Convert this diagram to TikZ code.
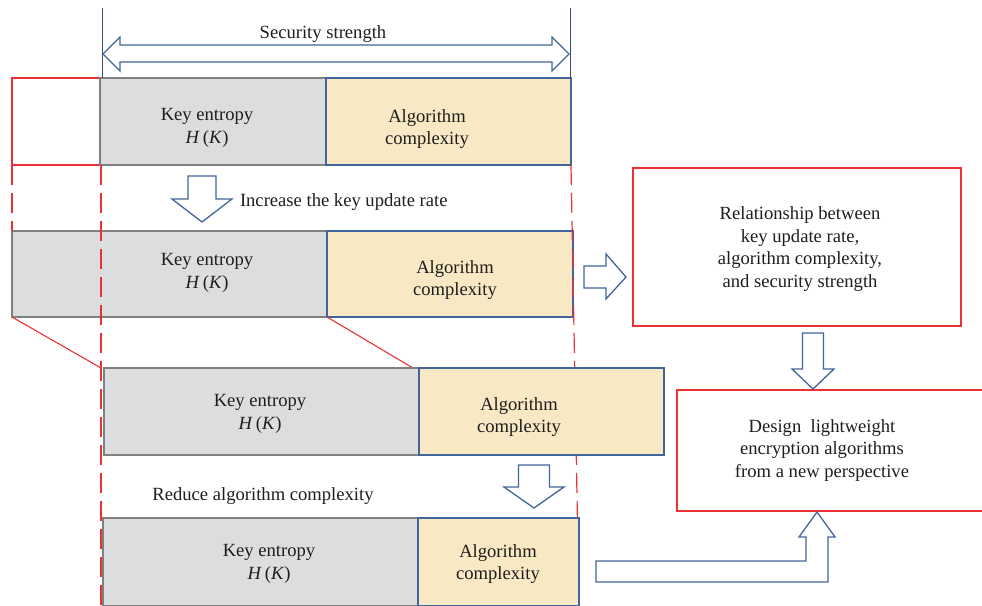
\documentclass[tikz,border=0pt]{standalone}
\usepackage{fontspec}
\setmainfont{Liberation Serif}
\definecolor{redline}{RGB}{236,48,52}
\definecolor{blueline}{RGB}{66,101,156}
\definecolor{grayline}{RGB}{128,128,128}
\definecolor{grayfill}{RGB}{220,221,223}
\definecolor{beige}{RGB}{249,232,196}
\definecolor{thinline}{RGB}{60,78,108}
\definecolor{txtcol}{RGB}{30,30,30}
\begin{document}
\begin{tikzpicture}[x=1pt,y=-1pt,
  every node/.style={inner sep=0pt,outer sep=0pt},
  txt/.style={font=\fontsize{18.6}{22.5}\selectfont, align=center, text=txtcol},
  graybox/.style={draw=grayline, fill=grayfill, line width=1.3pt},
  beigebox/.style={draw=blueline, fill=beige, line width=1.5pt},
  redbox/.style={draw=redline, line width=1.3pt},
  blockarrow/.style={draw=blueline, fill=white, line width=1.3pt, line join=miter},
  reddash/.style={draw=redline, line width=1.2pt, dash pattern=on 20pt off 8pt},
  redsolid/.style={draw=redline, line width=1.1pt},
  thin/.style={draw=thinline, line width=0.8pt}]
\useasboundingbox (0,0) rectangle (982,605);

% top row
\node[redbox, minimum width=88pt, minimum height=87pt] (redleft) at (56,121.5) {};
\node[graybox, minimum width=226pt, minimum height=87pt] (g1) at (213,121.5) {};
\node[beigebox, minimum width=245pt, minimum height=87pt] (b1) at (448.5,121.5) {};
\node[txt] (ke1) at (207,128) {Key entropy\\\textit{H}\,(\textit{K})};
\node[txt] (ac1) at (427,129) {Algorithm\\complexity};

% security strength
\coordinate (vl1) at (102,8);
\coordinate (vl2) at (570,8);
\draw[thin] (vl1) -- (g1.north west -| vl1);
\draw[thin] (vl2) -- (b1.north east -| vl2);
\draw[blockarrow] (103,54) -- (120,37) -- (120,45) -- (552,45) -- (552,37) -- (569,54)
  -- (552,71) -- (552,62) -- (120,62) -- (120,71) -- cycle;
\node[txt] (ss) at (323,34.5) {Security strength};

% second row
\draw[blockarrow] (188,176) -- (216,176) -- (216,199) -- (232,199) -- (202,222)
  -- (172,199) -- (188,199) -- cycle;
\node[txt, anchor=west] (inc) at (240,202.5) {Increase the key update rate};
\node[graybox, minimum width=315pt, minimum height=86pt] (g2) at (169.5,274) {};
\node[beigebox, minimum width=246pt, minimum height=86pt] (b2) at (450,274) {};
\node[txt] (ke2) at (207,273) {Key entropy\\\textit{H}\,(\textit{K})};
\node[txt] (ac2) at (455,280) {Algorithm\\complexity};

% dashed guides
\draw[reddash] (12,165) -- (12,231);
\draw[reddash] (101,165) -- (101,606);
\draw[reddash] (571,165) -- (579,606);
\draw[redsolid] (12,317) -- (101,368);
\draw[redsolid] (327,317) -- (413,368);

% third row
\node[graybox, minimum width=315pt, minimum height=87pt] (g3) at (261.5,411.5) {};
\node[beigebox, minimum width=245pt, minimum height=87pt] (b3) at (541.5,411.5) {};
\node[txt] (ke3) at (260,414) {Key entropy\\\textit{H}\,(\textit{K})};
\node[txt] (ac3) at (519,417) {Algorithm\\complexity};

\draw[blockarrow] (518.5,465) -- (549.5,465) -- (549.5,487) -- (564,487) -- (534,508)
  -- (504,487) -- (518.5,487) -- cycle;
\node[txt] (red) at (263,496.5) {Reduce algorithm complexity};

% fourth row
\node[graybox, minimum width=315pt, minimum height=88pt] (g4) at (260.5,562) {};
\node[beigebox, minimum width=161pt, minimum height=88pt] (b4) at (498.5,562) {};
\node[txt] (ke4) at (269,564) {Key entropy\\\textit{H}\,(\textit{K})};
\node[txt] (ac4) at (498,564) {Algorithm\\complexity};

% right side
\node[redbox, minimum width=328pt, minimum height=158pt] (r1) at (797,247) {};
\node[txt] (r1t) at (800,249) {Relationship between\\key update rate,\\algorithm complexity,\\and security strength};
\node[redbox, minimum width=312pt, minimum height=121pt] (r2) at (833,450.5) {};
\node[txt] (r2t) at (822,450.5) {Design\ \ lightweight\\encryption algorithms\\from a new perspective};

\draw[blockarrow] (584,266) -- (606,266) -- (606,254) -- (626,277) -- (606,299)
  -- (606,288) -- (584,288) -- cycle;
\draw[blockarrow] (802.5,333) -- (823.5,333) -- (823.5,369) -- (834,369) -- (813,389)
  -- (792,369) -- (802.5,369) -- cycle;
\draw[blockarrow] (596,561) -- (806,561) -- (806,537) -- (799,537) -- (817,512)
  -- (835,537) -- (828,537) -- (828,582) -- (596,582) -- cycle;
\end{tikzpicture}
\end{document}
